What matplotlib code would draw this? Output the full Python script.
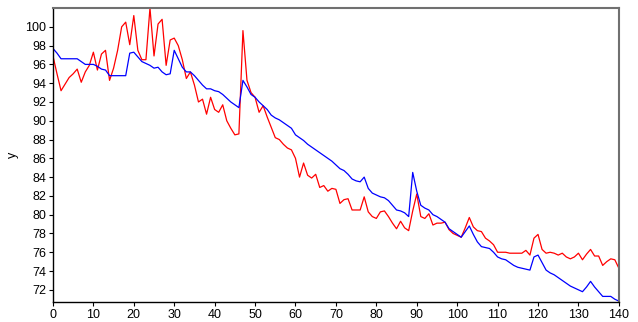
import numpy as np
import matplotlib
matplotlib.use('Agg')
import matplotlib.pyplot as plt

plt.rcParams['font.family'] = ['Liberation Sans', 'DejaVu Sans']

x = np.arange(141)

# observed values
y_red = [
    96.9, 95.0, 93.2, 93.9, 94.6, 95.0, 95.5, 94.1, 95.2, 95.9,
    97.3, 95.4, 97.1, 97.5, 94.3, 95.6, 97.5, 100.0, 100.5, 98.1,
    101.2, 97.5, 96.5, 96.5, 102.0, 96.9, 100.3, 100.8, 95.9, 98.6,
    98.8, 98.0, 96.5, 94.5, 95.2, 93.8, 92.0, 92.3, 90.7, 92.5,
    91.2, 90.9, 91.7, 90.0, 89.2, 88.5, 88.6, 99.6, 94.3, 93.0,
    92.5, 90.9, 91.6, 90.4, 89.3, 88.2, 88.0, 87.5, 87.1, 86.9,
    86.0, 84.0, 85.5, 84.2, 83.9, 84.3, 82.9, 83.1, 82.5, 82.8,
    82.7, 81.2, 81.6, 81.7, 80.5, 80.5, 80.5, 81.9, 80.3, 79.8,
    79.6, 80.3, 80.4, 79.8, 79.1, 78.5, 79.3, 78.6, 78.3, 80.4,
    82.2, 79.8, 79.6, 80.1, 78.9, 79.1, 79.1, 79.2, 78.4, 78.0,
    77.8, 77.6, 78.6, 79.7, 78.7, 78.3, 78.2, 77.5, 77.2, 76.8,
    76.0, 76.0, 76.0, 75.9, 75.9, 75.9, 75.9, 76.2, 75.7, 77.5,
    77.9, 76.3, 75.9, 76.0, 75.9, 75.7, 75.9, 75.5, 75.3, 75.5,
    75.9, 75.2, 75.8, 76.3, 75.6, 75.6, 74.6, 75.0, 75.3, 75.2,
    74.3,
]

# fitted values
y_blue = [
    97.7, 97.2, 96.6, 96.6, 96.6, 96.6, 96.6, 96.3, 96.0, 96.0,
    96.0, 95.8, 95.5, 95.4, 94.8, 94.8, 94.8, 94.8, 94.8, 97.2,
    97.3, 96.8, 96.3, 96.1, 95.9, 95.6, 95.7, 95.2, 94.9, 95.0,
    97.5, 96.6, 95.7, 95.2, 95.2, 94.8, 94.3, 93.8, 93.4, 93.4,
    93.2, 93.1, 92.8, 92.4, 92.0, 91.7, 91.4, 94.3, 93.6, 92.8,
    92.5, 92.0, 91.6, 91.2, 90.6, 90.3, 90.1, 89.8, 89.5, 89.2,
    88.5, 88.2, 87.9, 87.5, 87.2, 86.9, 86.6, 86.3, 86.0, 85.7,
    85.3, 84.9, 84.7, 84.3, 83.8, 83.6, 83.5, 84.0, 82.8, 82.3,
    82.1, 81.9, 81.8, 81.5, 81.0, 80.5, 80.4, 80.2, 79.8, 84.5,
    82.5, 81.0, 80.7, 80.5, 80.0, 79.8, 79.5, 79.2, 78.5, 78.2,
    77.9, 77.6, 78.2, 78.8, 77.9, 77.1, 76.6, 76.5, 76.4, 76.0,
    75.5, 75.3, 75.2, 74.9, 74.6, 74.4, 74.3, 74.2, 74.1, 75.5,
    75.7, 74.9, 74.1, 73.8, 73.6, 73.3, 73.0, 72.7, 72.4, 72.2,
    72.0, 71.8, 72.3, 72.9, 72.3, 71.8, 71.3, 71.3, 71.3, 71.0,
    70.8,
]

xticks = np.arange(0, 141, 10)
yticks = np.arange(72, 101, 2)

fig = plt.figure(figsize=(6.38, 3.22), dpi=100)
ax = fig.add_axes([0.083, 0.062, 0.887, 0.913])

ax.plot(x, y_red, color='#ff0000', lw=0.9)
ax.plot(x, y_blue, color='#0000ff', lw=0.9)

ax.set_xlim(0, 140)
ax.set_ylim(70.7, 102.0)
ax.set_xticks(xticks)
ax.set_yticks(yticks)
ax.tick_params(labelsize=9, length=3, width=0.8, pad=2)
ax.set_ylabel('y', fontsize=9, labelpad=4)

for side in ('left', 'bottom'):
    ax.spines[side].set_color('#000000')
    ax.spines[side].set_linewidth(1.0)
for side in ('top', 'right'):
    ax.spines[side].set_color('#707070')
    ax.spines[side].set_linewidth(1.5)

fig.savefig('out.png', dpi=100)
